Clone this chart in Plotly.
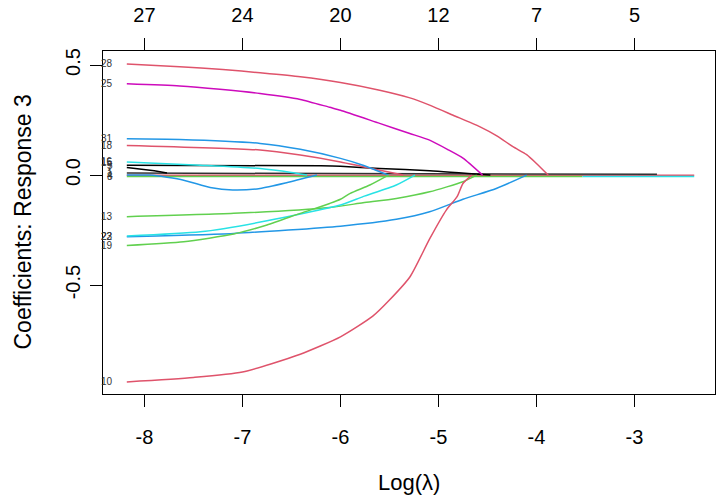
import plotly.graph_objects as go

# ---------------- data ----------------
x_ticks = [-8, -7, -6, -5, -4, -3]
top_tick_labels = ["27", "24", "20", "12", "7", "5"]
y_ticks = [0.5, 0.0, -0.5, -1.0]
y_tick_labels = ["0.5", "0.0", "-0.5", "-1.0"]

x_28 = [-8.18, -7.64, -7.2, -6.82, -6.41, -6.0, -5.6, -5.3, -5.09, -4.85, -4.58, -4.4, -4.24, -4.1, -4.0, -3.88]
y_28 = [0.505, 0.492, 0.48, 0.465, 0.447, 0.421, 0.386, 0.352, 0.318, 0.272, 0.22, 0.177, 0.129, 0.093, 0.053, 0.0]

x_25 = [-8.18, -7.64, -7.23, -6.82, -6.41, -6.11, -6.0, -5.6, -5.3, -5.09, -4.9, -4.75, -4.55]
y_25 = [0.415, 0.405, 0.39, 0.371, 0.344, 0.308, 0.295, 0.235, 0.19, 0.159, 0.115, 0.077, 0.0]

x_31 = [-8.18, -7.64, -6.82, -6.41, -6.0, -5.77, -5.51]
y_31 = [0.165, 0.162, 0.144, 0.117, 0.076, 0.045, 0.0]

x_18 = [-8.18, -6.82, -6.41, -6.0, -5.77, -5.36]
y_18 = [0.135, 0.114, 0.091, 0.06, 0.038, 0.0]

x_16 = [-8.18, -7.43, -6.82, -6.5, -6.34]
y_16 = [0.06, 0.045, 0.03, 0.012, 0.0]

x_k1 = [-8.18, -6.2, -6.0, -5.6, -5.09, -4.47]
y_k1 = [0.045, 0.042, 0.04, 0.03, 0.02, 0.0]

x_k2 = [-8.18, -7.9, -7.77]
y_k2 = [0.035, 0.02, 0.009]

x_dip = [-8.18, -7.94, -7.6, -7.33, -7.1, -6.82, -6.55, -6.24]
y_dip = [0.0, 0.0, -0.023, -0.056, -0.068, -0.061, -0.035, 0.0]

x_13 = [-8.18, -7.09, -6.11, -5.77, -5.43, -5.09, -4.75, -4.61]
y_13 = [-0.189, -0.174, -0.147, -0.126, -0.106, -0.076, -0.03, 0.0]

x_19 = [-8.18, -7.6, -7.09, -6.75, -6.41, -6.11, -6.0, -5.9, -5.7, -5.51]
y_19 = [-0.32, -0.303, -0.268, -0.227, -0.174, -0.129, -0.11, -0.083, -0.045, 0.0]

x_22 = [-8.18, -7.43, -6.75, -6.0, -5.77, -5.43, -5.24]
y_22 = [-0.277, -0.258, -0.208, -0.136, -0.098, -0.045, 0.0]

x_23 = [-8.18, -7.09, -6.0, -5.43, -5.09, -4.75, -4.41, -4.1]
y_23 = [-0.28, -0.265, -0.232, -0.201, -0.167, -0.11, -0.061, 0.0]

x_10 = [-8.18, -7.5, -7.0, -6.41, -6.0, -5.67, -5.5, -5.29, -5.09, -4.92, -4.81, -4.75, -4.66]
y_10 = [-0.94, -0.92, -0.895, -0.814, -0.735, -0.641, -0.568, -0.462, -0.29, -0.159, -0.098, -0.038, 0.0]

# near-zero coefficients
x_zred = [-8.18, -2.39]
y_zred = [-0.001, -0.001]
x_zgreen = [-8.18, -3.53]
y_zgreen = [-0.006, -0.006]
x_zcyan = [-3.53, -2.39]
y_zcyan = [-0.006, -0.006]
x_zblack = [-8.18, -6.9, -6.0, -2.77]
y_zblack = [0.009, 0.008, 0.004, 0.004]

label_text = ["28", "25", "31", "18", "16", "15", "5", "7", "1", "4", "8", "13", "22", "23", "19", "10"]
label_y = [0.505, 0.415, 0.165, 0.135, 0.06, 0.056, 0.045, 0.035, 0.006, 0.0, -0.006, -0.189, -0.277, -0.28, -0.32, -0.94]
label_x = -8.18

RED = "#DF536B"
GREEN = "#61D04F"
BLUE = "#2297E6"
CYAN = "#28E2E5"
MAGENTA = "#CD0BBC"
BLACK = "#000000"

# (x, y, colour, smooth?)
series = [
    (x_zred, y_zred, RED, False),
    (x_zgreen, y_zgreen, GREEN, False),
    (x_zcyan, y_zcyan, CYAN, False),
    (x_zblack, y_zblack, "#333333", False),
    (x_k2, y_k2, BLACK, False),
    (x_k1, y_k1, BLACK, True),
    (x_dip, y_dip, BLUE, True),
    (x_16, y_16, CYAN, True),
    (x_18, y_18, RED, True),
    (x_31, y_31, BLUE, True),
    (x_25, y_25, MAGENTA, True),
    (x_28, y_28, RED, True),
    (x_13, y_13, GREEN, True),
    (x_23, y_23, BLUE, True),
    (x_22, y_22, CYAN, True),
    (x_19, y_19, GREEN, True),
    (x_10, y_10, RED, True),
]

FONT = "Liberation Sans, Arial, sans-serif"

fig = go.Figure()
for xs, ys, col, smooth in series:
    line = dict(color=col, width=1.5)
    if smooth:
        line.update(shape="spline", smoothing=0.6)
    fig.add_trace(go.Scatter(x=xs, y=ys, mode="lines", line=line,
                             hoverinfo="skip", showlegend=False))

# invisible trace to anchor the top axis
fig.add_trace(go.Scatter(x=[x_ticks[0]], y=[0], xaxis="x2", mode="markers",
                         marker=dict(opacity=0), hoverinfo="skip", showlegend=False))

for t, yv in zip(label_text, label_y):
    fig.add_annotation(x=label_x, y=yv, xref="x", yref="y", text=t,
                       showarrow=False, xanchor="right", yanchor="middle",
                       xshift=-12, font=dict(family=FONT, size=10, color="#333333"))

xr = [-8.423, -2.178]
yr = [-0.995, 0.564]

fig.update_layout(
    width=720, height=497,
    margin=dict(l=103, r=5, t=51, b=103),
    plot_bgcolor="white", paper_bgcolor="white",
    showlegend=False,
    font=dict(family=FONT, size=20, color="black"),
    xaxis=dict(range=xr, tickvals=x_ticks, ticktext=[str(v) for v in x_ticks],
               ticks="outside", ticklen=12, tickwidth=1, tickcolor="black",
               showline=True, linecolor="black", linewidth=1, mirror=True,
               showgrid=False, zeroline=False, ticklabelstandoff=13,
               tickfont=dict(size=20)),
    xaxis2=dict(range=xr, overlaying="x", side="top", tickvals=x_ticks,
                ticktext=top_tick_labels, ticks="outside", ticklen=12,
                tickwidth=1, tickcolor="black", showline=False,
                showgrid=False, zeroline=False, ticklabelstandoff=8,
                tickfont=dict(size=20)),
    yaxis=dict(range=yr, tickvals=y_ticks, ticktext=y_tick_labels,
               ticks="outside", ticklen=12, tickwidth=1, tickcolor="black",
               showline=True, linecolor="black", linewidth=1, mirror=True,
               showgrid=False, zeroline=False, tickangle=-90,
               ticklabelstandoff=2, tickfont=dict(size=20)),
)

fig.add_annotation(text="Log(λ)", xref="paper", yref="paper", x=0.5, y=0,
                   xanchor="center", yanchor="middle", yshift=-88,
                   showarrow=False, font=dict(family=FONT, size=22))
fig.add_annotation(text="Coefficients: Response 3", xref="paper", yref="paper",
                   x=0, y=0.5, xanchor="center", yanchor="middle", xshift=-81,
                   textangle=-90, showarrow=False, font=dict(family=FONT, size=23))

fig.write_html("out.html")
